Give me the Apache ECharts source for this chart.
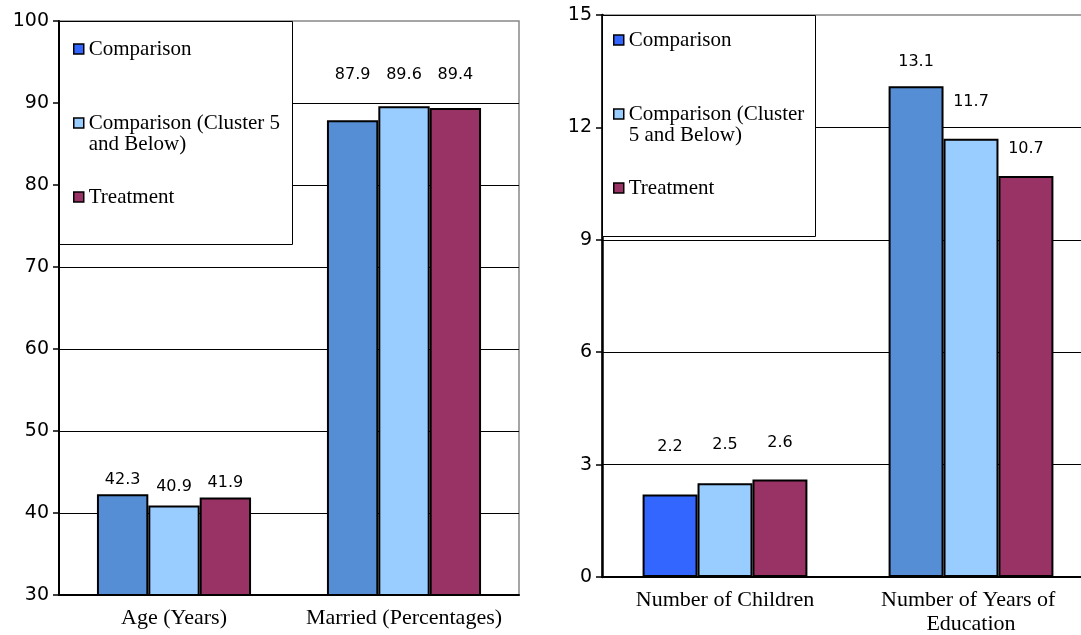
<!DOCTYPE html>
<html>
<head>
<meta charset="utf-8">
<script src="https://cdn.jsdelivr.net/npm/echarts@6/dist/echarts.min.js"></script>
<style>
html,body{margin:0;padding:0;background:#fff;}
#chart{width:1081px;height:635px;}
</style>
</head>
<body>
<div id="chart"></div>
<script>
// ---- data ----
const seriesNames = ['Comparison', 'Comparison (Cluster 5 and Below)', 'Treatment'];

const leftCategories = ['Age (Years)', 'Married (Percentages)'];
const leftComparison = [42.3, 87.9];
const leftCluster5 = [40.9, 89.6];
const leftTreatment = [41.9, 89.4];
const leftAxisMin = 30;
const leftAxisMax = 100;
const leftAxisStep = 10;

const rightCategories = ['Number of Children', 'Number of Years of Education'];
const rightComparison = [2.2, 13.1];
const rightCluster5 = [2.5, 11.7];
const rightTreatment = [2.6, 10.7];
const rightAxisMin = 0;
const rightAxisMax = 15;
const rightAxisStep = 3;

// ---- styles ----
const COL_BRIGHT = '#3366FF';
const COL_STEEL = '#558ED5';
const COL_LIGHT = '#99CCFF';
const COL_TREAT = '#993366';

const barColors = {
  left: [[COL_STEEL, COL_STEEL], [COL_LIGHT, COL_LIGHT], [COL_TREAT, COL_TREAT]],
  right: [[COL_BRIGHT, COL_STEEL], [COL_LIGHT, COL_LIGHT], [COL_TREAT, COL_TREAT]]
};
const seriesColors = [COL_BRIGHT, COL_LIGHT, COL_TREAT];
// label distance above bar top (px), per series per category
const labelLift = {
  left: [[6, 37], [11, 23], [7, 25]],
  right: [[40, 16], [30, 29], [29, 19]]
};

function makeSeries(side, idx, values, axisIndex) {
  return {
    type: 'bar',
    name: seriesNames[idx],
    xAxisIndex: axisIndex,
    yAxisIndex: axisIndex,
    barGap: '0%',
    barCategoryGap: '33%',
    itemStyle: { color: seriesColors[idx], borderColor: '#000', borderWidth: 2 },
    label: {
      show: true, position: 'top', color: '#000',
      fontFamily: 'DejaVu Sans', fontSize: 16
    },
    data: values.map((v, i) => ({
      value: v,
      itemStyle: { color: barColors[side][idx][i] },
      label: { distance: labelLift[side][idx][i] }
    }))
  };
}

function yAxis(gridIndex, min, max, step, lineWidth) {
  return {
    type: 'value', gridIndex, min, max, interval: step,
    axisLine: { show: true, lineStyle: { color: '#000', width: lineWidth } },
    axisTick: { show: true, length: 6, lineStyle: { color: '#000', width: 1.5 } },
    axisLabel: { color: '#000', fontFamily: 'DejaVu Sans', fontSize: 19, margin: 10 },
    splitLine: { show: true, showMaxLine: false, lineStyle: { color: '#000', width: 1 } }
  };
}

function xAxis(gridIndex, cats, extraLabel) {
  return {
    type: 'category', gridIndex, data: cats,
    axisLine: { show: true, lineStyle: { color: '#000', width: 2 } },
    axisTick: { show: false },
    axisLabel: Object.assign({
      color: '#000', fontFamily: 'Liberation Serif', fontSize: 22,
      lineHeight: 24, margin: 11, interval: 0
    }, extraLabel)
  };
}

function legend(left, top, wrapText) {
  return {
    left, top, orient: 'vertical', padding: 0, itemGap: 32,
    itemWidth: 10, itemHeight: 10, icon: 'rect', z: 10,
    selectedMode: false,
    itemStyle: { borderColor: '#000', borderWidth: 1.5 },
    textStyle: { fontFamily: 'Liberation Serif', fontSize: 21, lineHeight: 21, color: '#000' },
    // leading blank line keeps the swatch level with the first text line
    formatter: n => (n === seriesNames[1] ? '\n' + wrapText : n),
    data: seriesNames.map(n => ({ name: n }))
  };
}

const chart = echarts.init(document.getElementById('chart'), null, { renderer: 'canvas' });
chart.setOption({
  animation: false,
  backgroundColor: '#fff',
  grid: [
    { left: 59, top: 21, width: 460, height: 574, show: true, borderColor: '#888', borderWidth: 1.5, backgroundColor: 'transparent', outerBoundsMode: 'none', containLabel: false },
    { left: 602, top: 15, width: 492, height: 562, show: true, borderColor: '#888', borderWidth: 1.5, backgroundColor: 'transparent', outerBoundsMode: 'none', containLabel: false }
  ],
  xAxis: [
    xAxis(0, leftCategories, { width: 230 }),
    xAxis(1, rightCategories, { width: 200, overflow: 'break' })
  ],
  yAxis: [
    yAxis(0, leftAxisMin, leftAxisMax, leftAxisStep, 2),
    yAxis(1, rightAxisMin, rightAxisMax, rightAxisStep, 2.5)
  ],
  legend: [
    legend(73, 38.5, 'Comparison (Cluster 5\nand Below)'),
    legend(613, 29.5, 'Comparison (Cluster\n5 and Below)')
  ],
  graphic: [
    { type: 'rect', z: 5, shape: { x: 59.5, y: 21.5, width: 233, height: 223 }, style: { fill: '#fff', stroke: '#000', lineWidth: 1 } },
    { type: 'rect', z: 5, shape: { x: 602.5, y: 15.5, width: 213, height: 221 }, style: { fill: '#fff', stroke: '#000', lineWidth: 1 } }
  ],
  series: [
    makeSeries('left', 0, leftComparison, 0),
    makeSeries('left', 1, leftCluster5, 0),
    makeSeries('left', 2, leftTreatment, 0),
    makeSeries('right', 0, rightComparison, 1),
    makeSeries('right', 1, rightCluster5, 1),
    makeSeries('right', 2, rightTreatment, 1)
  ]
});
</script>
</body>
</html>
